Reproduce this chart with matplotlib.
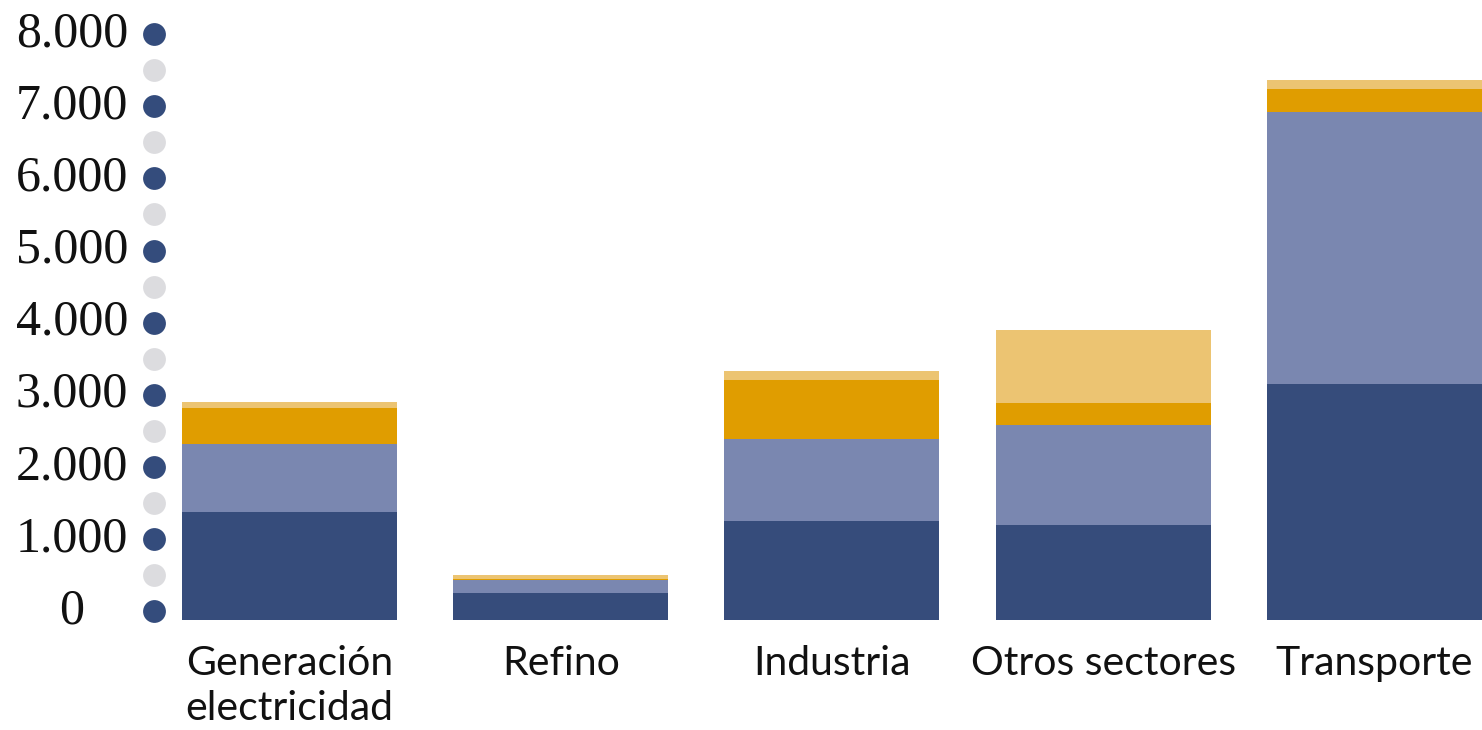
import matplotlib
matplotlib.use("Agg")
import matplotlib.pyplot as plt
import matplotlib.transforms as mtransforms
import numpy as np

categories = ["Generación\nelectricidad", "Refino", "Industria", "Otros sectores", "Transporte"]
serie_1 = [1500, 370, 1377, 1313, 3269]   # dark blue
serie_2 = [943, 185, 1133, 1387, 3777]    # lavender
serie_3 = [499, 10, 818, 315, 315]        # orange
serie_4 = [75, 60, 125, 1008, 129]        # light yellow
tick_values = list(range(0, 8001, 1000))
half_values = list(range(500, 8000, 1000))
tick_labels = ["0", "1.000", "2.000", "3.000", "4.000", "5.000", "6.000", "7.000", "8.000"]

colors = ["#364c7b", "#7a87b0", "#e09d00", "#ecc472"]

W, H = 1482, 730
fig = plt.figure(figsize=(W / 100, H / 100), dpi=100)
ax = fig.add_axes([0, 0, 1, 1])
ax.set_axis_off()

step = 271.2
x0 = 289.5
ax.set_xlim(-x0 / step, (W - x0) / step)
base_px = 110
scale = 72.1 / 1000
ax.set_ylim(-base_px / scale, (H - base_px) / scale)

x = np.arange(len(categories))
bottom = np.zeros(len(categories))
for vals, c in zip([serie_1, serie_2, serie_3, serie_4], colors):
    ax.bar(x, vals, width=0.793, bottom=bottom, color=c, linewidth=0)
    bottom += np.array(vals)

# axis dots and labels (shifted slightly up, as in the reference)
offset = mtransforms.ScaledTranslation(0, 0.09, fig.dpi_scale_trans)
dot_x = -0.5
ax.scatter([dot_x] * len(half_values), half_values, s=270, color="#dcdcdf",
           linewidths=0, transform=ax.transData + offset, clip_on=False, zorder=3)
ax.scatter([dot_x] * len(tick_values), tick_values, s=270, color="#344c7c",
           linewidths=0, transform=ax.transData + offset, clip_on=False, zorder=3)
label_x = (72 - x0) / step
for v, lab in zip(tick_values, tick_labels):
    ax.text(label_x, v, lab, ha="center", va="center", fontsize=36,
            family="Liberation Serif", color="#111111",
            transform=ax.transData + offset)

# category labels
for xi, cat in zip(x, categories):
    ax.text(xi, -25 / scale, cat, ha="center", va="top", fontsize=29.5,
            family="Lato", color="#111111", linespacing=1.25)

fig.savefig("out.png", dpi=100)
